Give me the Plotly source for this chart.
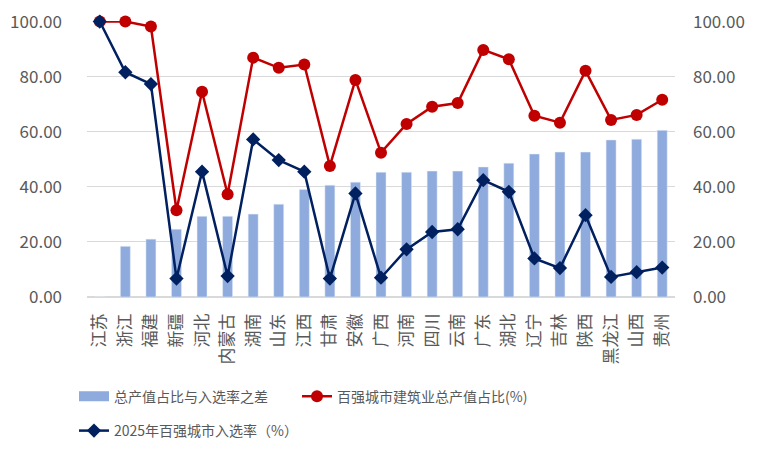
import plotly.graph_objects as go

categories = ["江苏", "浙江", "福建", "新疆", "河北", "内蒙古", "湖南", "山东", "江西", "甘肃", "安徽", "广西",
              "河南", "四川", "云南", "广东", "湖北", "辽宁", "吉林", "陕西", "黑龙江", "山西", "贵州"]
gap_values = [0, 18.4, 21.0, 24.6, 29.3, 29.3, 30.1, 33.7, 39.0, 40.6, 41.7, 45.3,
              45.3, 45.7, 45.7, 47.2, 48.6, 51.9, 52.6, 52.6, 57.0, 57.3, 60.5]
share_values = [100, 100, 98.2, 31.5, 74.5, 37.3, 86.9, 83.2, 84.4, 47.6, 78.8, 52.4,
                62.8, 69.1, 70.4, 89.7, 86.3, 65.8, 63.3, 82.1, 64.3, 66.1, 71.6]
rate_values = [100, 81.6, 77.3, 6.7, 45.5, 7.6, 57.2, 49.7, 45.5, 6.7, 37.6, 7.0,
               17.3, 23.6, 24.6, 42.4, 38.2, 14.0, 10.5, 29.7, 7.3, 9.0, 10.7]
y_ticks = [0, 20, 40, 60, 80, 100]

name_gap = "总产值占比与入选率之差"
name_share = "百强城市建筑业总产值占比(%)"
name_rate = "2025年百强城市入选率（%）"

BAR = "#8faadc"
RED = "#c00000"
NAVY = "#002060"
TXT = "#595959"
FONT = "Noto Sans CJK SC"

# page body has an 8px default margin, so the figure is sized/placed to compensate
W, H = 754, 451

fig = go.Figure()
fig.add_trace(go.Bar(x=categories, y=gap_values, name=name_gap, marker_color=BAR,
                     width=0.39, showlegend=False))
# legend entry for bars (wide patch)
fig.add_trace(go.Scatter(x=[None], y=[None], mode="lines", name=name_gap,
                         line=dict(color=BAR, width=12), legend="legend"))
fig.add_trace(go.Scatter(x=categories, y=share_values, name=name_share, yaxis="y2",
                         mode="lines+markers", line=dict(color=RED, width=2.5), cliponaxis=False,
                         marker=dict(symbol="circle", size=12, color=RED), legend="legend2"))
fig.add_trace(go.Scatter(x=categories, y=rate_values, name=name_rate, yaxis="y2",
                         mode="lines+markers", line=dict(color=NAVY, width=2.5), cliponaxis=False,
                         marker=dict(symbol="diamond", size=11, color=NAVY), legend="legend3"))

leg = dict(orientation="h", xref="container", yref="container", xanchor="left", yanchor="middle",
           font=dict(size=14, color=TXT), bgcolor="rgba(0,0,0,0)")

Y_RANGE = [0, 100.2]

fig.update_layout(
    width=W, height=H,
    margin=dict(l=79, r=87, t=13, b=162),
    paper_bgcolor="white", plot_bgcolor="white",
    font=dict(family=FONT, size=16, color=TXT),
    xaxis=dict(type="category", range=[-0.5, 22.5], tickangle=-90, automargin=False,
               tickfont=dict(size=17, color=TXT), ticks="", ticklabelstandoff=12,
               showgrid=False, showline=False, zeroline=False),
    yaxis=dict(range=Y_RANGE, tickvals=y_ticks, tickformat=".2f", automargin=False,
               showgrid=True, gridcolor="#d9d9d9", gridwidth=1, ticklabeloverflow="allow",
               zeroline=True, zerolinecolor="#d9d9d9", zerolinewidth=1.5,
               ticks="", ticklabelstandoff=24, tickfont=dict(size=17, color=TXT)),
    yaxis2=dict(range=Y_RANGE, tickvals=y_ticks, tickformat=".2f", overlaying="y", side="right",
                automargin=False, showgrid=False, zeroline=False, ticks="", ticklabelstandoff=17,
                ticklabeloverflow="allow", tickfont=dict(size=17, color=TXT)),
    legend=dict(leg, x=66 / W, y=1 - 388.7 / H),
    legend2=dict(leg, x=289 / W, y=1 - 388.7 / H),
    legend3=dict(leg, x=66 / W, y=1 - 423 / H),
)

fig.write_html("out.html")
